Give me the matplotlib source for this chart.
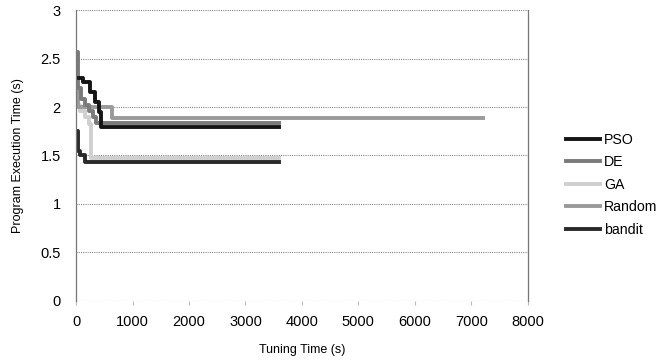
import matplotlib
matplotlib.use("Agg")
import matplotlib.pyplot as plt

plt.rcParams['font.family'] = ['Liberation Sans', 'DejaVu Sans']

# data (tuning time in s, best program execution time in s)
pso_t = [0, 120, 250, 330, 400, 440, 3600]
pso_v = [2.30, 2.26, 2.15, 2.05, 1.95, 1.79, 1.79]

de_t = [0, 30, 80, 150, 220, 300, 360, 3600]
de_v = [2.57, 2.20, 2.08, 2.02, 1.96, 1.90, 1.84, 1.84]

ga_t = [0, 60, 150, 220, 270, 3600]
ga_v = [2.02, 1.96, 1.90, 1.82, 1.47, 1.47]

rand_t = [0, 25, 640, 7200]
rand_v = [2.20, 2.00, 1.89, 1.89]

bandit_t = [0, 30, 70, 150, 3600]
bandit_v = [1.75, 1.55, 1.50, 1.43, 1.43]

labels = ["PSO", "DE", "GA", "Random", "bandit"]
colors = ["#151515", "#7a7a7a", "#cfcfcf", "#9a9a9a", "#2a2a2a"]

fig = plt.figure(figsize=(6.68, 3.62), dpi=100)
ax = fig.add_axes([0.114, 0.169, 0.676, 0.803])

series = [(pso_t, pso_v), (de_t, de_v), (ga_t, ga_v), (rand_t, rand_v), (bandit_t, bandit_v)]
order = [2, 3, 1, 0, 4]
handles = {}
for i in order:
    t, v = series[i]
    h, = ax.plot(t, v, drawstyle='steps-post', color=colors[i], lw=2.8, label=labels[i])
    handles[i] = h

ax.set_xlim(0, 8000)
ax.set_ylim(0, 3)
ax.set_xticks(range(0, 8001, 1000))
ax.set_yticks([0, 0.5, 1, 1.5, 2, 2.5, 3])
ax.set_yticklabels(["0", "0.5", "1", "1.5", "2", "2.5", "3"])
ax.grid(axis='y', color='#888888', linestyle=(0, (1, 1)), lw=0.8)
for s in ['top', 'bottom']:
    ax.spines[s].set_visible(False)
for s in ['left', 'right']:
    ax.spines[s].set_linestyle((0, (1, 1)))
    ax.spines[s].set_color('#777777')
    ax.spines[s].set_linewidth(0.9)
ax.tick_params(axis='x', labelsize=10.5, length=3, color='#bbbbbb', pad=7)
ax.tick_params(axis='y', labelsize=10.5, length=0, pad=11)
ax.set_xlabel("Tuning Time (s)", fontsize=9, labelpad=11)
ax.set_ylabel("Program Execution Time (s)", fontsize=9, labelpad=12)

fig.legend([handles[i] for i in range(5)], labels, loc='center left',
           bbox_to_anchor=(0.828, 0.49), frameon=False, fontsize=10.2,
           handlelength=2.4, labelspacing=0.6, handletextpad=0.3)

fig.savefig("out.png", dpi=100)
